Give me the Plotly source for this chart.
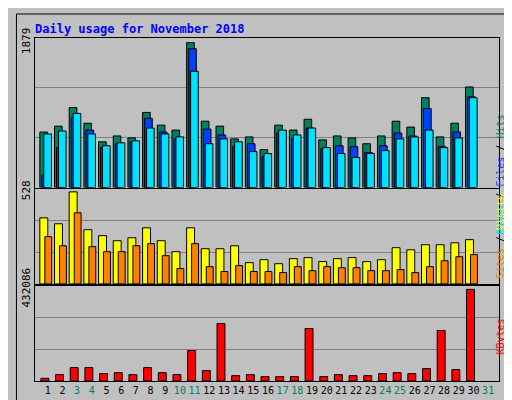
import plotly.graph_objects as go
from plotly.subplots import make_subplots

# Daily values for November 2018
days = list(range(1, 31))
hits = [720, 796, 1037, 834, 593, 669, 644, 974, 809, 745, 1879, 860, 796, 631, 657,
        491, 809, 745, 885, 618, 669, 644, 568, 669, 860, 784, 1165, 657, 834, 1304]
files = [161, 517, 911, 745, 517, 568, 593, 898, 720, 631, 1800, 758, 682, 530, 568,
         403, 707, 631, 771, 504, 542, 530, 453, 542, 707, 669, 1025, 530, 720, 1177]
pages = [695, 733, 961, 695, 542, 580, 606, 771, 695, 657, 1507, 568, 631, 593, 466,
         441, 745, 682, 771, 517, 441, 390, 441, 479, 631, 657, 745, 517, 644, 1165]
visits = [379, 345, 528, 311, 277, 248, 265, 322, 248, 185, 322, 202, 202, 219, 122,
          139, 116, 145, 151, 128, 145, 151, 128, 139, 208, 196, 225, 225, 236, 254]
sites = [271, 219, 408, 214, 185, 185, 219, 231, 162, 88, 231, 99, 71, 105, 71,
         71, 65, 99, 76, 99, 93, 93, 76, 76, 82, 65, 99, 133, 156, 168]
kbytes = [12600, 30000, 63000, 63000, 34700, 39400, 30000, 63000, 39400, 30000,
          143500, 48900, 271200, 25200, 30000, 20500, 20500, 20500, 247600, 20500,
          30000, 25200, 25200, 34700, 39400, 34700, 58300, 238100, 53600, 432086]
tick_days = list(range(1, 32))
weekend = [3, 4, 10, 11, 17, 18, 24, 25, 31]

fig = make_subplots(rows=3, cols=1, shared_xaxes=True)

def bars(y, color, offset, width, row):
    fig.add_trace(go.Bar(x=days, y=y, offset=offset, width=width,
                         marker=dict(color=color, line=dict(color="black", width=1))),
                  row=row, col=1)

bars(hits, "#008060", -0.54, 0.52, 1)
bars(files, "#0040FF", -0.40, 0.52, 1)
bars(pages, "#00E0FF", -0.27, 0.52, 1)
bars(visits, "#FFFF00", -0.54, 0.54, 2)
bars(sites, "#FF8000", -0.20, 0.47, 2)
bars(kbytes, "#FF0000", -0.47, 0.54, 3)

ticktext = [f"<span style='color:#008060'>{d}</span>" if d in weekend else str(d)
            for d in tick_days]

font = "DejaVu Sans Mono"
fig.update_layout(
    width=512, height=400, barmode="overlay", showlegend=False,
    paper_bgcolor="#C0C0C0", plot_bgcolor="#C0C0C0",
    margin=dict(l=20, r=21, t=25, b=22),
    font=dict(family=font, size=11, color="black"),
)

for i, (mx, top, dom) in enumerate([(max(hits), 1939, [0.564, 1]),
                                    (max(visits), 547, [0.283, 0.561]),
                                    (max(kbytes), 448000, [0, 0.277])], start=1):
    fig.update_yaxes(row=i, col=1, range=[0, top], domain=dom,
                     tickvals=[mx], ticktext=[str(mx)], tickangle=-90,
                     showgrid=False, zeroline=False, ticks="",
                     showline=True, linecolor="black", mirror=True,
                     minor=dict(tickvals=[top / 3, 2 * top / 3], showgrid=True,
                                gridcolor="#808080", gridwidth=1, ticks=""))
    fig.update_xaxes(row=i, col=1, range=[0.13, 31.74], showgrid=False,
                     zeroline=False, showline=True, linecolor="black", mirror=True,
                     tickvals=tick_days, ticktext=ticktext, ticks="",
                     tickangle=0, tickfont=dict(size=10))

fig.update_xaxes(row=3, col=1, showticklabels=True)
fig.update_xaxes(row=1, col=1, showticklabels=False)
fig.update_xaxes(row=2, col=1, showticklabels=False)

fig.add_annotation(text="<b>Daily usage for November 2018</b>", xref="paper", yref="paper",
                   x=-0.005, y=1.0, yshift=18, xanchor="left", showarrow=False,
                   font=dict(family=font, size=12, color="#0000FF"))

side = [("<span style='color:#00E0FF'>Pages</span> / <span style='color:#0040FF'>Files</span>"
         " / <span style='color:#008060'>Hits</span>", 0.78),
        ("<span style='color:#FF8000'>Sites</span> / <span style='color:#FFFF00'>Visits</span>", 0.42),
        ("<span style='color:#FF0000'>KBytes</span>", 0.07)]
for txt, yy in side:
    fig.add_annotation(text=txt, xref="paper", yref="paper", x=1.0, xshift=9, y=yy,
                       textangle=-90, showarrow=False, font=dict(family=font, size=10))

fig.add_shape(type="rect", xref="paper", yref="paper", x0=-0.04, x1=1.044,
              y0=-0.062, y1=1.07, line=dict(color="black", width=1))

fig.write_html("out.html")
